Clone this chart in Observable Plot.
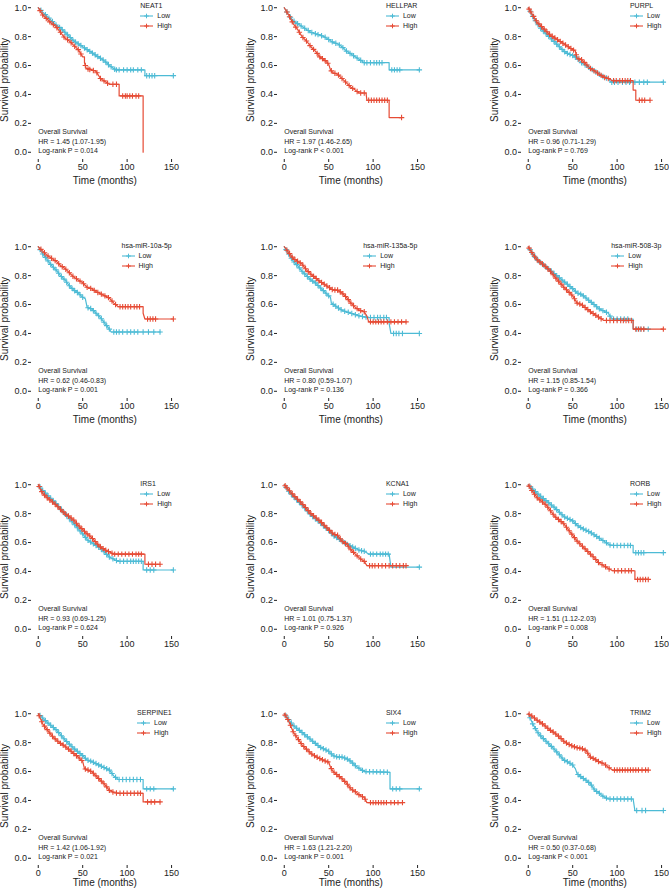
<!DOCTYPE html>
<html><head><meta charset="utf-8">
<script src="https://cdn.jsdelivr.net/npm/d3@7"></script>
<script src="https://cdn.jsdelivr.net/npm/@observablehq/plot@0.6"></script>
<style>
body{margin:0;background:#fff;}
#page{position:relative;width:669px;height:892px;overflow:hidden;background:#fff;font-family:"Liberation Sans",Arial,Helvetica,sans-serif;}
.panel{position:absolute;}
.panel svg{overflow:visible;}
.legend{position:absolute;font-size:7px;line-height:10px;color:#222;text-align:left;white-space:nowrap;}
.legend .row{display:flex;align-items:center;height:10px;}
.legend .row svg{margin-right:4px;display:block;}
</style></head><body><div id="page"></div>
<script>
// ---------- data ----------
const genes = ["NEAT1","HELLPAR","PURPL","hsa-miR-10a-5p","hsa-miR-135a-5p","hsa-miR-508-3p","IRS1","KCNA1","RORB","SERPINE1","SIX4","TRIM2"];
const hrLabels = ["HR = 1.45 (1.07-1.95)","HR = 1.97 (1.46-2.65)","HR = 0.96 (0.71-1.29)","HR = 0.62 (0.46-0.83)","HR = 0.80 (0.59-1.07)","HR = 1.15 (0.85-1.54)","HR = 0.93 (0.69-1.25)","HR = 1.01 (0.75-1.37)","HR = 1.51 (1.12-2.03)","HR = 1.42 (1.06-1.92)","HR = 1.63 (1.21-2.20)","HR = 0.50 (0.37-0.68)"];
const pLabels = ["Log-rank P = 0.014","Log-rank P < 0.001","Log-rank P = 0.769","Log-rank P = 0.001","Log-rank P = 0.136","Log-rank P = 0.366","Log-rank P = 0.624","Log-rank P = 0.926","Log-rank P = 0.008","Log-rank P = 0.021","Log-rank P = 0.001","Log-rank P < 0.001"];
const groupNames = ["Low","High"];
const groupColors = ["#4DBBD5","#E64B35"];
const xTicks = [0,50,100,150];
const yTicks = [0,0.2,0.4,0.6,0.8,1.0];

const lowCurves = [
 [[0,1],[5,0.97],[10,0.94],[15,0.91],[20,0.88],[25,0.86],[30,0.83],[35,0.80],[40,0.77],[45,0.75],[50,0.73],[55,0.71],[60,0.69],[65,0.67],[70,0.65],[75,0.63],[80,0.60],[85,0.58],[87,0.57],[120,0.57],[120,0.53],[152,0.53]],
 [[0,1],[5,0.95],[10,0.91],[15,0.89],[20,0.87],[25,0.85],[30,0.83],[35,0.82],[40,0.81],[45,0.80],[50,0.78],[55,0.76],[60,0.75],[65,0.73],[70,0.70],[75,0.68],[80,0.66],[85,0.64],[90,0.62],[118,0.62],[118,0.57],[152,0.57]],
 [[0,1],[5,0.94],[10,0.89],[15,0.85],[20,0.82],[25,0.79],[30,0.76],[35,0.73],[40,0.70],[45,0.68],[50,0.67],[55,0.65],[60,0.62],[65,0.60],[70,0.58],[75,0.56],[80,0.54],[85,0.52],[90,0.51],[93,0.485],[152,0.485]],
 [[0,1],[5,0.95],[10,0.91],[15,0.87],[20,0.84],[25,0.80],[30,0.77],[35,0.73],[40,0.70],[45,0.68],[50,0.65],[53,0.64],[55,0.58],[60,0.57],[65,0.54],[70,0.51],[75,0.47],[80,0.43],[82,0.41],[137,0.41]],
 [[0,1],[5,0.95],[10,0.90],[15,0.87],[20,0.83],[25,0.80],[30,0.77],[35,0.75],[40,0.72],[45,0.69],[50,0.66],[52,0.65],[53,0.61],[60,0.58],[65,0.56],[70,0.55],[80,0.53],[85,0.52],[95,0.51],[118,0.51],[118,0.47],[120,0.40],[152,0.40]],
 [[0,1],[5,0.95],[10,0.91],[15,0.885],[20,0.86],[25,0.835],[30,0.81],[35,0.785],[40,0.76],[45,0.735],[50,0.71],[55,0.68],[60,0.67],[65,0.645],[70,0.62],[75,0.595],[80,0.57],[85,0.555],[90,0.54],[93,0.51],[95,0.50],[118,0.50],[118,0.43],[135,0.43]],
 [[0,1],[5,0.96],[10,0.93],[15,0.90],[20,0.87],[25,0.835],[30,0.80],[35,0.765],[40,0.73],[45,0.695],[50,0.66],[55,0.62],[60,0.60],[65,0.58],[70,0.56],[75,0.53],[80,0.50],[85,0.485],[90,0.47],[118,0.47],[118,0.41],[152,0.41]],
 [[0,1],[5,0.955],[10,0.92],[15,0.89],[20,0.86],[25,0.825],[30,0.79],[35,0.765],[40,0.74],[45,0.71],[50,0.685],[55,0.65],[60,0.63],[65,0.61],[70,0.59],[75,0.575],[80,0.56],[85,0.545],[90,0.54],[95,0.52],[118,0.52],[120,0.43],[152,0.43]],
 [[0,1],[5,0.97],[10,0.94],[15,0.915],[20,0.89],[25,0.865],[30,0.84],[35,0.81],[40,0.78],[45,0.765],[50,0.75],[55,0.72],[60,0.70],[65,0.685],[70,0.67],[75,0.65],[80,0.63],[85,0.61],[90,0.59],[93,0.58],[118,0.58],[118,0.53],[152,0.53]],
 [[0,1],[5,0.97],[10,0.94],[15,0.915],[20,0.89],[25,0.855],[30,0.82],[35,0.79],[40,0.76],[45,0.735],[50,0.71],[55,0.68],[60,0.67],[65,0.655],[70,0.64],[75,0.625],[80,0.61],[85,0.57],[90,0.545],[118,0.545],[118,0.48],[152,0.48]],
 [[0,1],[5,0.96],[10,0.92],[15,0.895],[20,0.87],[25,0.845],[30,0.82],[35,0.795],[40,0.77],[45,0.755],[50,0.74],[55,0.71],[60,0.70],[65,0.70],[70,0.69],[75,0.67],[80,0.64],[85,0.62],[90,0.60],[119,0.595],[119,0.48],[152,0.48]],
 [[0,1],[5,0.93],[10,0.875],[15,0.84],[20,0.81],[25,0.78],[30,0.75],[35,0.715],[40,0.68],[45,0.665],[50,0.645],[53,0.62],[55,0.585],[60,0.56],[65,0.54],[70,0.515],[75,0.47],[80,0.45],[85,0.425],[90,0.41],[118,0.41],[120,0.33],[152,0.33]]
];
const lowCensor = [
 [3,8,12,16,20,24,27,30,33,36,39,42,45,48,52,55,58,61,64,67,70,73,76,79,82,86,88,91,96,100,104,107,112,116,122,125,128,131,152],
 [3,7,11,15,19,23,27,31,35,38,42,46,50,54,58,62,66,70,74,78,82,86,90,93,97,101,104,107,110,121,124,127,130,152],
 [2,5,8,11,14,17,20,23,26,29,32,35,38,41,44,47,50,53,56,60,64,68,72,76,80,84,88,94,97,101,106,110,114,120,125,130,134,152],
 [2,5,8,11,14,17,20,23,26,29,32,35,38,41,44,47,50,56,59,62,65,68,71,74,77,80,85,88,91,95,100,104,108,112,118,124,130,137],
 [2,5,8,11,14,17,20,23,26,29,32,35,38,41,44,47,50,55,58,61,64,68,72,76,80,84,88,92,97,101,105,108,112,115,123,126,129,133,152],
 [2,5,8,11,14,17,20,23,26,29,32,35,38,41,44,47,50,53,56,59,62,65,68,71,74,77,80,84,88,92,96,100,104,108,112,122,126,130,135],
 [2,5,8,11,14,17,20,23,26,29,32,35,38,41,44,47,50,53,56,59,62,65,68,71,74,77,80,84,88,92,96,100,104,107,110,113,116,122,126,130,152],
 [2,5,8,11,14,17,20,23,26,29,32,35,38,41,44,47,50,53,56,59,62,65,68,71,74,77,80,84,87,90,97,100,104,108,111,114,117,152],
 [2,5,8,11,14,17,20,23,26,29,32,35,38,41,44,47,50,53,56,59,62,65,68,71,74,77,80,84,88,92,96,100,104,108,112,115,121,124,127,130,152],
 [2,5,8,11,14,17,20,23,26,29,32,35,38,41,44,47,50,53,56,59,62,65,68,71,74,77,80,83,87,91,95,99,103,107,111,115,122,126,130,152],
 [2,5,8,11,14,17,20,23,26,29,32,35,38,41,44,47,50,53,56,59,62,65,68,71,74,77,80,84,88,92,96,100,104,108,112,116,122,126,130,152],
 [2,5,8,11,14,17,20,23,26,29,32,35,38,41,44,47,50,56,59,62,65,68,71,74,77,80,84,88,92,96,100,104,108,112,116,122,128,132,152]
];
const highCurves = [
 [[0,1],[5,0.95],[10,0.92],[15,0.89],[20,0.87],[25,0.83],[30,0.79],[35,0.77],[40,0.74],[45,0.71],[50,0.66],[52,0.66],[52,0.62],[54,0.58],[60,0.57],[65,0.56],[70,0.51],[75,0.49],[80,0.47],[91,0.47],[91,0.39],[118,0.39],[118,0]],
 [[0,1],[5,0.95],[10,0.89],[15,0.85],[20,0.80],[25,0.77],[30,0.73],[35,0.70],[40,0.66],[45,0.64],[50,0.61],[52,0.57],[55,0.55],[60,0.54],[65,0.51],[70,0.48],[75,0.45],[80,0.43],[84,0.41],[92,0.41],[93,0.36],[118,0.36],[118,0.24],[132,0.24]],
 [[0,1],[5,0.95],[10,0.90],[15,0.87],[20,0.84],[25,0.81],[30,0.79],[35,0.77],[40,0.75],[45,0.73],[50,0.71],[53,0.70],[55,0.65],[60,0.64],[65,0.61],[70,0.58],[75,0.56],[80,0.54],[85,0.52],[90,0.51],[95,0.495],[118,0.495],[118,0.43],[121,0.43],[121,0.36],[137,0.36]],
 [[0,1],[5,0.97],[10,0.94],[15,0.92],[20,0.90],[25,0.87],[30,0.85],[35,0.82],[40,0.79],[45,0.77],[50,0.75],[55,0.72],[60,0.71],[65,0.69],[70,0.675],[75,0.66],[80,0.645],[85,0.61],[90,0.585],[118,0.585],[118,0.54],[120,0.50],[152,0.50]],
 [[0,1],[5,0.96],[10,0.92],[15,0.90],[20,0.88],[25,0.84],[30,0.81],[35,0.785],[40,0.76],[45,0.74],[50,0.72],[55,0.70],[60,0.70],[65,0.68],[70,0.65],[75,0.61],[80,0.58],[85,0.56],[90,0.55],[93,0.52],[95,0.48],[137,0.48]],
 [[0,1],[5,0.95],[10,0.91],[15,0.885],[20,0.86],[25,0.83],[30,0.79],[35,0.755],[40,0.72],[45,0.69],[50,0.66],[55,0.61],[60,0.60],[65,0.575],[70,0.55],[75,0.53],[80,0.51],[85,0.49],[118,0.49],[118,0.43],[152,0.43]],
 [[0,1],[5,0.94],[10,0.91],[15,0.885],[20,0.86],[25,0.83],[30,0.80],[35,0.78],[40,0.755],[45,0.72],[50,0.69],[55,0.66],[60,0.635],[65,0.60],[70,0.57],[75,0.55],[80,0.535],[85,0.52],[120,0.52],[120,0.45],[137,0.45]],
 [[0,1],[5,0.965],[10,0.93],[15,0.90],[20,0.87],[25,0.835],[30,0.80],[35,0.775],[40,0.75],[45,0.72],[50,0.69],[55,0.66],[60,0.65],[65,0.61],[70,0.59],[75,0.55],[80,0.52],[85,0.49],[90,0.47],[93,0.44],[137,0.44]],
 [[0,1],[5,0.95],[10,0.91],[15,0.885],[20,0.86],[25,0.82],[30,0.78],[35,0.755],[40,0.73],[45,0.69],[50,0.65],[55,0.61],[60,0.58],[65,0.55],[70,0.52],[75,0.49],[80,0.455],[85,0.44],[90,0.42],[95,0.405],[120,0.405],[120,0.345],[135,0.345]],
 [[0,1],[5,0.93],[10,0.89],[15,0.85],[20,0.82],[25,0.795],[30,0.775],[35,0.75],[40,0.725],[45,0.70],[50,0.67],[52,0.62],[60,0.60],[65,0.57],[70,0.54],[75,0.51],[80,0.47],[85,0.455],[90,0.45],[118,0.45],[118,0.39],[137,0.39]],
 [[0,1],[5,0.95],[10,0.875],[15,0.83],[20,0.785],[25,0.755],[30,0.725],[35,0.705],[40,0.69],[45,0.675],[50,0.665],[52,0.63],[55,0.60],[60,0.575],[65,0.55],[70,0.52],[75,0.48],[80,0.46],[85,0.435],[90,0.42],[93,0.385],[133,0.385]],
 [[0,1],[5,0.98],[10,0.955],[15,0.935],[20,0.91],[25,0.885],[30,0.865],[35,0.84],[40,0.81],[45,0.79],[50,0.775],[55,0.765],[60,0.76],[65,0.745],[70,0.70],[75,0.685],[80,0.665],[85,0.655],[90,0.63],[95,0.61],[135,0.61]]
];
const highCensor = [
 [2,5,9,13,17,21,25,29,33,37,41,45,48,53,56,58,62,66,70,74,78,84,88,95,98,100,103,106,110,113],
 [3,6,9,13,17,21,25,29,33,37,40,43,46,49,53,57,61,65,69,73,77,82,86,90,95,98,101,104,107,110,113,116,132],
 [1,3,6,9,12,15,18,21,24,27,30,33,36,39,42,45,48,51,54,57,60,63,66,70,74,78,82,86,90,96,99,103,106,109,112,115,125,128,131,137],
 [3,7,11,15,19,23,27,31,35,39,43,47,51,55,59,63,67,71,75,79,83,87,92,95,98,101,104,108,111,114,123,126,129,132,152],
 [3,6,9,12,15,18,21,24,27,30,33,36,39,42,45,48,51,54,57,60,63,66,69,72,75,78,82,86,90,97,100,103,106,109,112,116,120,124,128,132,137],
 [1,4,7,10,13,16,19,22,25,28,31,34,37,40,43,46,49,52,55,58,61,64,67,70,73,76,79,82,88,92,96,100,104,107,110,113,116,121,124,127,130,152],
 [1,4,7,10,13,16,19,22,25,28,31,34,37,40,43,46,49,52,55,58,61,64,67,70,73,76,79,83,86,90,94,98,102,106,110,113,116,124,128,132,137],
 [1,3,6,9,12,15,18,21,24,27,30,33,36,39,42,45,48,51,54,57,60,63,66,69,72,75,78,82,86,90,96,99,102,106,110,114,118,122,126,130,134,137],
 [1,4,7,10,13,16,19,22,25,28,31,34,37,40,43,46,49,52,55,58,61,64,67,70,73,76,79,83,87,91,97,101,105,109,113,116,123,126,129,132,135],
 [1,4,7,10,13,16,19,22,25,28,31,34,37,40,43,46,49,53,56,59,62,65,68,71,74,77,80,84,88,92,96,100,104,108,112,115,123,127,131,137],
 [1,4,7,10,13,16,19,22,25,28,31,34,37,40,43,46,49,53,56,59,62,65,68,71,74,77,80,84,88,91,97,100,103,106,109,112,115,120,124,128,133],
 [1,4,7,10,13,16,19,22,25,28,31,34,37,40,43,46,49,52,55,58,61,64,67,70,73,76,79,83,87,91,97,100,103,106,109,112,115,118,121,124,128,132,135]
];

// ---------- layout ----------
const colX0 = [37.7, 283.3, 527.3];     // pixel of t = 0
const rowY1 = [7.3, 246.7, 484.7, 713.7]; // pixel of S = 1
const rowTitleDy = [20.8, 20.8, null, 16.8]; // row 3 of the reference shows no x-axis title
const pxPerMonth = 0.889, pxPerUnit = 144.5;
const xDomain = [-7.6, 153.3], yDomain = [-0.05, 1.05];
const ML = 40, MR = 4, MT = 4, MB = 36;
const W = Math.round(ML + MR + (xDomain[1]-xDomain[0])*pxPerMonth);
const H = Math.round(MT + MB + (yDomain[1]-yDomain[0])*pxPerUnit);
const FONT = '"Liberation Sans", Arial, Helvetica, sans-serif';
const TXT = "#222";

function survAt(curve, t) {
  let i = -1;
  for (let k = 0; k < curve.length; k++) if (curve[k][0] <= t) i = k;
  if (i < 0) return curve[0][1];
  if (i === curve.length - 1) return curve[i][1];
  const [t0, s0] = curve[i], [t1, s1] = curve[i+1];
  return t1 === t0 ? s0 : s0 + (s1 - s0) * (t - t0) / (t1 - t0);
}

const page = document.getElementById("page");
const offX = -xDomain[0]*pxPerMonth + ML;
const offY = (yDomain[1]-1)*pxPerUnit + MT;

genes.forEach((gene, i) => {
  const r = Math.floor(i/3), c = i % 3;
  const x0 = colX0[c], y1 = rowY1[r];
  const curves = [lowCurves[i], highCurves[i]];
  const censors = [lowCensor[i], highCensor[i]];
  const marks = [
    Plot.axisX({ticks: xTicks, tickSize: 3, tickPadding: 1, line: true, label: null, fontSize: 9, color: TXT}),
    Plot.axisY({ticks: yTicks, tickFormat: d3.format(".1f"), tickSize: 3, tickPadding: 1.5, line: true, label: null, fontSize: 9, color: TXT}),
    Plot.text(["Survival probability"], {frameAnchor: "left", dx: -27, rotate: -90, fontSize: 10, lineAnchor: "middle", textAnchor: "middle", fill: TXT}),
    Plot.text([["Overall Survival", hrLabels[i], pLabels[i]].join("\n")], {frameAnchor: "bottom-left", textAnchor: "start", lineAnchor: "middle", dx: -xDomain[0]*pxPerMonth, dy: -19.2, fontSize: 7, lineHeight: 10/7, fill: TXT})
  ];
  if (rowTitleDy[r] != null) {
    marks.push(Plot.text(["Time (months)"], {frameAnchor: "bottom", dy: rowTitleDy[r], dx: 1.9, fontSize: 10, lineAnchor: "middle", textAnchor: "middle", fill: TXT}));
  }
  [0,1].forEach(g => {
    marks.push(Plot.line(curves[g], {x: d => d[0], y: d => d[1], stroke: groupColors[g], strokeWidth: 1.2}));
    marks.push(Plot.dot(censors[g].map(t => [t, survAt(curves[g], t)]), {x: d => d[0], y: d => d[1], symbol: "plus", r: 1.9, stroke: groupColors[g], strokeWidth: 1.1}));
  });
  const chart = Plot.plot({
    width: W, height: H, marginLeft: ML, marginRight: MR, marginTop: MT, marginBottom: MB,
    x: {domain: xDomain}, y: {domain: yDomain},
    style: {fontFamily: FONT, background: "transparent", color: TXT, overflow: "visible"},
    marks
  });
  const wrap = document.createElement("div");
  wrap.className = "panel";
  wrap.style.left = (x0 - offX) + "px";
  wrap.style.top = (y1 - offY) + "px";
  wrap.appendChild(chart);
  page.appendChild(wrap);

  // legend
  const lg = document.createElement("div");
  lg.className = "legend";
  lg.style.fontFamily = FONT;
  lg.style.right = (669 - (x0 + 134)) + "px";
  lg.style.top = (y1 - 6) + "px";
  let html = `<div>${gene}</div>`;
  groupNames.forEach((nm, g) => {
    html += `<div class="row"><svg width="13" height="8"><line x1="0" x2="13" y1="4" y2="4" stroke="${groupColors[g]}" stroke-width="1.1"/><path d="M4.2,4H8.8M6.5,1.7V6.3" stroke="${groupColors[g]}" stroke-width="1"/></svg><span>${nm}</span></div>`;
  });
  lg.innerHTML = html;
  page.appendChild(lg);
});
</script>
</body></html>
